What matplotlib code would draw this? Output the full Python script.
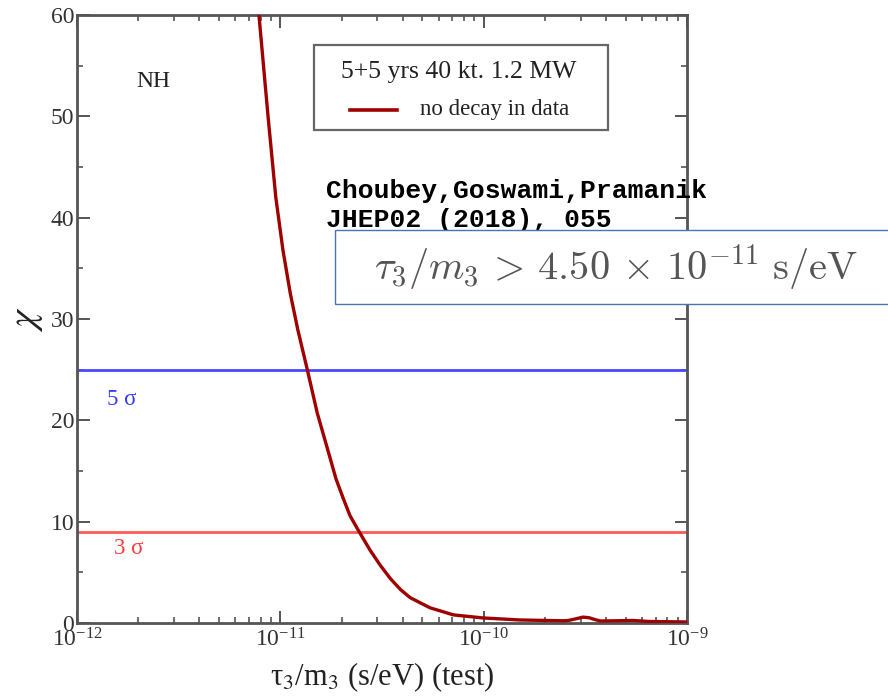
import matplotlib
matplotlib.use("Agg")
import matplotlib.pyplot as plt
from matplotlib.patches import Rectangle
from matplotlib.lines import Line2D
from matplotlib.ticker import LogLocator, MultipleLocator

plt.rcParams['mathtext.fontset'] = 'stix'
plt.rcParams['font.family'] = ['Liberation Serif', 'DejaVu Serif']

# chi^2 versus tau3/m3 (test), no decay in data
tau_test = [7.85e-12, 8.7e-12, 9.5e-12, 1.03e-11, 1.12e-11, 1.22e-11, 1.35e-11,
            1.52e-11, 1.75e-11, 1.88e-11, 2.03e-11, 2.2e-11, 2.41e-11, 2.76e-11,
            3.1e-11, 3.47e-11, 3.9e-11, 4.35e-11, 5.45e-11, 7.1e-11, 9.9e-11,
            1.5e-10, 2.45e-10, 2.6e-10, 2.85e-10, 3.08e-10, 3.3e-10, 3.55e-10,
            3.75e-10, 4.5e-10, 5.4e-10, 6.5e-10, 1e-9]
chi2 = [60, 50, 42, 36.8, 32.5, 28.9, 25.2,
        20.7, 16.4, 14.2, 12.4, 10.6, 9.2, 7.2,
        5.7, 4.4, 3.3, 2.5, 1.5, 0.8, 0.5,
        0.3, 0.22, 0.24, 0.42, 0.58, 0.52, 0.32,
        0.2, 0.22, 0.25, 0.15, 0.1]

sigma_levels = [25, 9]
sigma_labels = ["5 σ", "3 σ"]
sigma_colors = ["#4848ff", "#ff5a5a"]
sigma_text_colors = ["#3a3aff", "#ff3a3a"]

legend_title = "5+5 yrs 40 kt. 1.2 MW"
legend_entry = "no decay in data"
hierarchy = "NH"
citation_lines = ["Choubey,Goswami,Pramanik", "JHEP02 (2018), 055"]
bound = r"$\tau_3/m_3\,>\,4.50\,\times\,10^{-11}\ \mathrm{s/eV}$"

W, H = 888, 696
curve_color = '#a00000'
fig = plt.figure(figsize=(W / 100, H / 100), dpi=100)
ax = fig.add_axes([77 / W, 1 - 623 / H, 610 / W, 608 / H])


def fx(px):
    return px / W


def fy(py):
    return 1 - py / H


ax.set_xscale('log')
ax.set_xlim(1e-12, 1e-9)
ax.set_ylim(0, 60)

for lvl, col in zip(sigma_levels, sigma_colors):
    ax.axhline(lvl, color=col, lw=2.0, zorder=2)

ax.plot(tau_test, chi2, color=curve_color, lw=2.4, zorder=3,
        solid_joinstyle='round')

spine_col = '#555555'
for s in ax.spines.values():
    s.set_color(spine_col)
    s.set_linewidth(2.0)

ax.xaxis.set_major_locator(LogLocator(base=10, numticks=10))
ax.xaxis.set_minor_locator(LogLocator(base=10, subs=range(2, 10), numticks=10))
ax.yaxis.set_major_locator(MultipleLocator(10))
ax.yaxis.set_minor_locator(MultipleLocator(5))
ax.tick_params(which='both', direction='in', top=True, right=True,
               color=spine_col, labelcolor='#333333', labelsize=17)
ax.tick_params(which='major', length=9, width=1.4)
ax.tick_params(which='minor', length=4.5, width=1.2)
ax.tick_params(axis='y', pad=2)
ax.tick_params(axis='x', pad=4)

ax.set_xlabel("τ$_3$/m$_3$ (s/eV) (test)", fontsize=22, color='#222222', labelpad=6)
ax.set_ylabel(r"$\chi$", fontsize=28, color='#222222', labelpad=4)

ax.text(0.125, 0.89, hierarchy, transform=ax.transAxes, fontsize=17,
        color='#222222', ha='center', va='center')
ax.text(0.074, 0.367, sigma_labels[0], transform=ax.transAxes, fontsize=16.5,
        color=sigma_text_colors[0], ha='center', va='center')
ax.text(0.085, 0.123, sigma_labels[1], transform=ax.transAxes, fontsize=16.5,
        color=sigma_text_colors[1], ha='center', va='center')

# legend box with a title line and one entry
fig.patches.append(Rectangle((fx(314), fy(130)), fx(608) - fx(314), fy(45) - fy(130),
                             transform=fig.transFigure, facecolor='white',
                             edgecolor='#666666', lw=1.6, zorder=6))
fig.text(fx(459), fy(72), legend_title, fontsize=18.5, color='#222222',
         ha='center', va='center', zorder=7)
fig.lines.append(Line2D([fx(350), fx(397)], [fy(110), fy(110)],
                        transform=fig.transFigure, color=curve_color, lw=2.6,
                        zorder=7))
fig.text(fx(420), fy(110), legend_entry, fontsize=16.5, color='#222222',
         ha='left', va='center', zorder=7)

for line, base in zip(citation_lines, [198, 227]):
    fig.text(fx(326), fy(base), line, fontfamily='Liberation Mono',
             fontweight='bold', fontsize=19, color='black', va='baseline',
             zorder=10)

fig.patches.append(Rectangle((fx(335), fy(304)), 0.7, 74 / H,
                             transform=fig.transFigure, facecolor='white',
                             edgecolor='#4a72b8', lw=1.0, zorder=20))
fig.text(fx(616), fy(268), bound, math_fontfamily='cm', fontsize=29,
         color='#555555', ha='center', va='center', zorder=21)

fig.savefig("out.png", dpi=100)
